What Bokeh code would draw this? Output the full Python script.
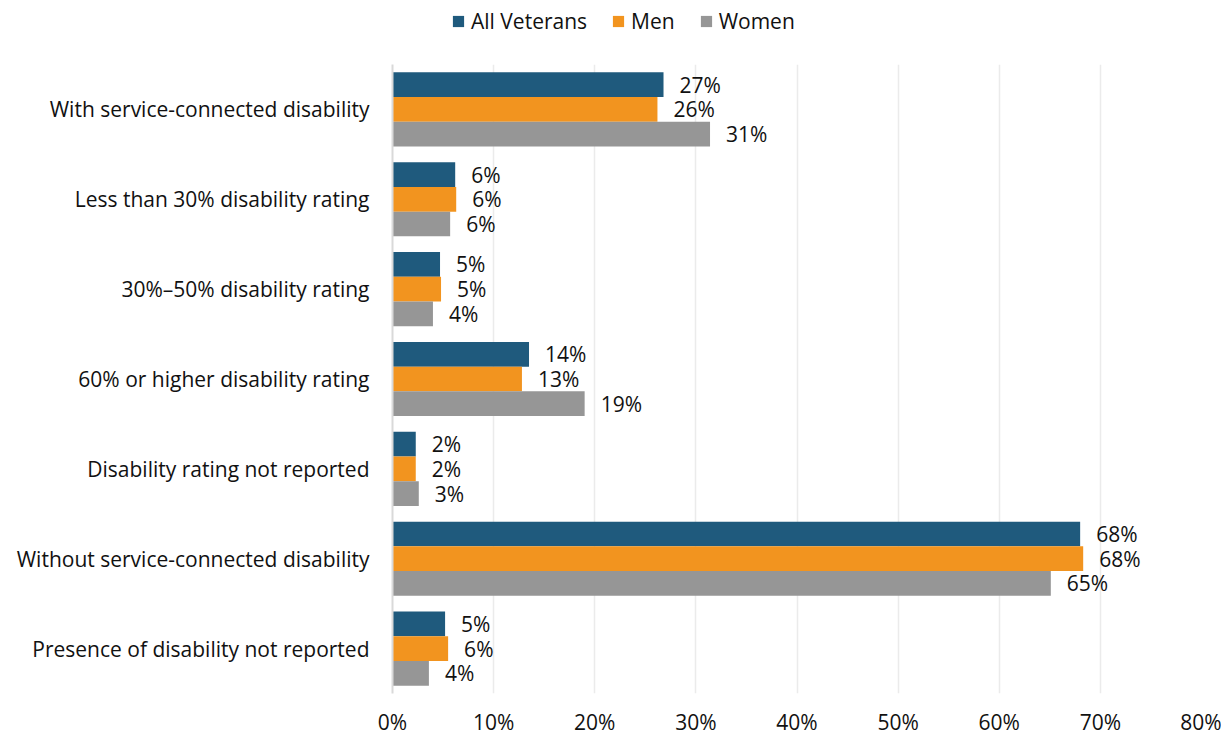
from bokeh.plotting import figure
from bokeh.layouts import column
from bokeh.models import (ColumnDataSource, Legend, LegendItem, FactorRange,
                          PrintfTickFormatter, FixedTicker, Range1d)
from bokeh.transform import dodge
from bokeh.core.properties import value
from bokeh.embed import file_html
from bokeh.resources import INLINE

categories = [
    "With service-connected disability",
    "Less than 30% disability rating",
    "30%\u201350% disability rating",
    "60% or higher disability rating",
    "Disability rating not reported",
    "Without service-connected disability",
    "Presence of disability not reported",
]
series = ["All Veterans", "Men", "Women"]
all_veterans = [26.8, 6.2, 4.7, 13.5, 2.3, 68.0, 5.2]
men = [26.2, 6.3, 4.8, 12.8, 2.3, 68.3, 5.5]
women = [31.4, 5.7, 4.0, 19.0, 2.6, 65.1, 3.6]
all_veterans_labels = ["27%", "6%", "5%", "14%", "2%", "68%", "5%"]
men_labels = ["26%", "6%", "5%", "13%", "2%", "68%", "6%"]
women_labels = ["31%", "6%", "4%", "19%", "3%", "65%", "4%"]
colors = ["#1F5A7D", "#F2941F", "#969696"]
x_ticks = [0, 10, 20, 30, 40, 50, 60, 70, 80]

FONT = "Open Sans"
FS = "21px"
TXT = "#111111"
W = 1221
TOP_H = 64

# --- legend strip (top) ---
top = figure(width=W, height=TOP_H, output_backend="svg", toolbar_location=None,
             x_range=Range1d(0, 80), y_range=Range1d(0, 1),
             x_axis_type=None, y_axis_type=None,
             min_border_left=0, min_border_right=0, min_border_top=0,
             min_border_bottom=0)
top.outline_line_color = None
top.xgrid.grid_line_color = None
top.ygrid.grid_line_color = None
top.background_fill_color = "white"
top.border_fill_color = "white"

leg_items = []
for name, col in zip(series, colors):
    # zero-width placeholder bar: only used to give the legend its swatch
    src0 = ColumnDataSource(dict(y=[0.5], right=[0], left=[0]))
    r0 = top.hbar(y="y", right="right", left="left", height=0.1, source=src0,
                  fill_color=col, line_color=None)
    leg_items.append(LegendItem(label=name, renderers=[r0]))

legend = Legend(items=leg_items, orientation="horizontal", location=(59, 29),
                label_text_font=FONT, label_text_font_size=FS,
                label_text_color=TXT, glyph_width=14, glyph_height=14,
                label_height=22, spacing=24, label_standoff=6,
                border_line_color=None, background_fill_alpha=0,
                padding=0, margin=0)
top.add_layout(legend, "center")

# --- main chart ---
p = figure(width=W, height=738 - TOP_H, output_backend="svg", toolbar_location=None,
           y_range=FactorRange(*list(reversed(categories))),
           x_range=Range1d(0, 80),
           min_border_left=392, min_border_right=20, min_border_top=0,
           min_border_bottom=38)
p.outline_line_color = None
p.background_fill_color = "white"
p.border_fill_color = "white"

bar_h = 0.275
offsets = [bar_h, 0.0, -bar_h]
vals = [all_veterans, men, women]
labs = [all_veterans_labels, men_labels, women_labels]
for name, v, lab, off, col in zip(series, vals, labs, offsets, colors):
    src = ColumnDataSource(dict(cat=categories, val=v, lab=lab))
    p.hbar(y=dodge("cat", off, range=p.y_range), right="val", left=0,
           height=bar_h, source=src, fill_color=col, line_color=None)
    p.text(x="val", y=dodge("cat", off, range=p.y_range), text="lab", source=src,
           x_offset=16, text_align="left", text_baseline="middle",
           text_font=value(FONT), text_font_size=FS, text_color=TXT)

p.xaxis.ticker = FixedTicker(ticks=x_ticks)
p.xaxis.formatter = PrintfTickFormatter(format="%d%%")
p.xaxis.axis_line_color = None
p.xaxis.major_tick_line_color = None
p.xaxis.minor_tick_line_color = None
p.xaxis.major_label_text_font = FONT
p.xaxis.major_label_text_font_size = FS
p.xaxis.major_label_text_color = TXT
p.xaxis.major_label_standoff = 8

p.yaxis.axis_line_color = "#D9D9D9"
p.yaxis.axis_line_width = 2
p.yaxis.major_tick_line_color = None
p.yaxis.minor_tick_line_color = None
p.yaxis.major_label_text_font = FONT
p.yaxis.major_label_text_font_size = FS
p.yaxis.major_label_text_color = TXT
p.yaxis.major_label_standoff = 17

p.xgrid.grid_line_color = "#EBEBEB"
p.xgrid.grid_line_width = 1.5
p.ygrid.grid_line_color = None

layout = column(top, p, spacing=0)
open("out.html", "w").write(file_html(layout, INLINE))
